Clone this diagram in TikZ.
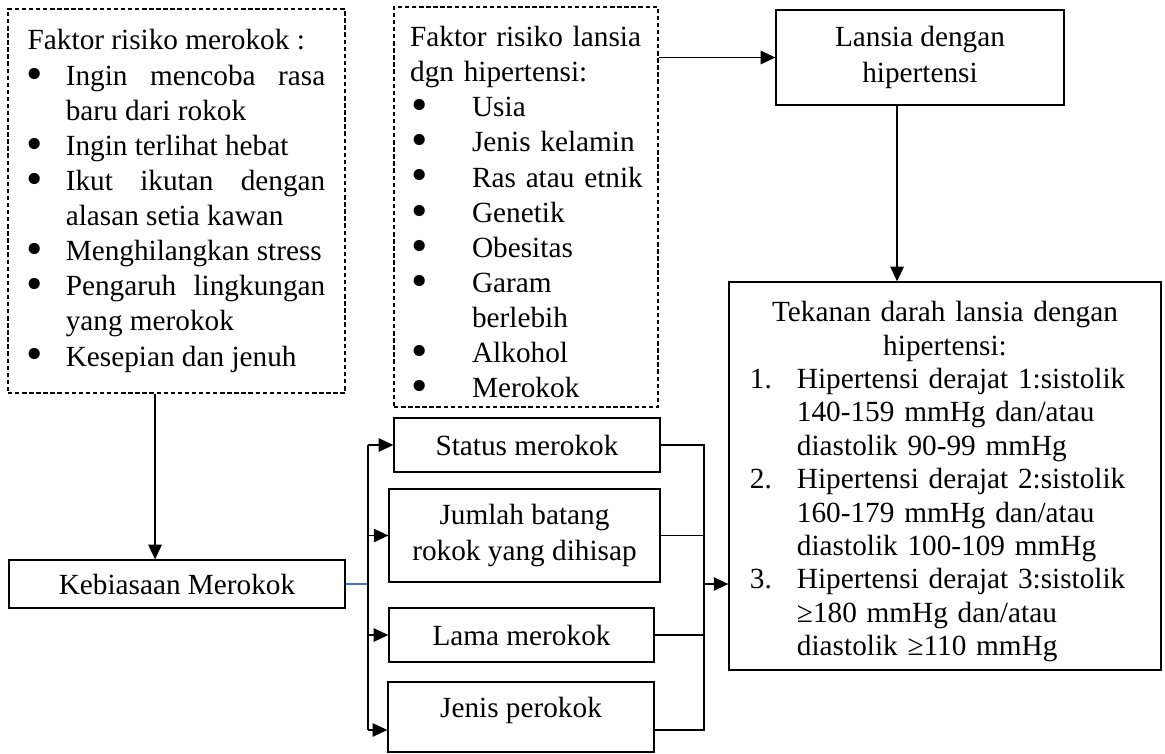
\documentclass[tikz,border=0pt]{standalone}
\usepackage{fontspec}
\setmainfont{Liberation Serif}
\usetikzlibrary{arrows.meta}
\definecolor{linkblue}{HTML}{4472C4}

% Listen in den Kaesten
\newcounter{numc}
\newcommand{\bigbul}{\makebox[4.2pt]{\raisebox{-1.6pt}{\scalebox{1.6}{\textbullet}}}}
\newenvironment{bul}[3]{\begin{list}{\bigbul}{\setlength{\leftmargin}{#1}\setlength{\labelsep}{#2}%
  \setlength{\rightmargin}{#3}\setlength{\labelwidth}{\dimexpr#1-#2\relax}\setlength{\itemsep}{0pt}%
  \setlength{\topsep}{0pt}\setlength{\parsep}{0pt}\setlength{\partopsep}{0pt}}}{\end{list}}
\newenvironment{numlist}{\begin{list}{\arabic{numc}.}{\usecounter{numc}\setlength{\leftmargin}{19.3pt}%
  \setlength{\labelsep}{0pt}\setlength{\labelwidth}{19.3pt}\renewcommand{\makelabel}[1]{##1\hfil}%
  \setlength{\itemsep}{0pt}\setlength{\topsep}{0pt}\setlength{\parsep}{0pt}\setlength{\partopsep}{0pt}}}{\end{list}}

\begin{document}
\begin{tikzpicture}[x=0.41pt, y=-0.41pt,
    box/.style={draw, line width=0.5pt, inner sep=2pt, font=\fontsize{12}{14.4}\selectfont},
    dashbox/.style={box, dash pattern=on 1.8pt off 1.1pt},
    arr/.style={-{Triangle[length=6pt,width=5.5pt]}, line width=0.5pt},
    link/.style={line width=0.5pt}]
            \useasboundingbox (0,0) rectangle (1165,753);

            % Faktor risiko (gestrichelt)
            \node[dashbox, minimum width=138.2pt, minimum height=157.4pt, text width=122pt, align=justify] (riskSmoke) at (176.5,201) {Faktor risiko merokok :
            \begin{bul}{15.6pt}{10.6pt}{0pt}
            \item Ingin mencoba rasa\linebreak baru dari rokok
            \item Ingin terlihat hebat
            \item Ikut ikutan dengan\linebreak alasan setia kawan
            \item Menghilangkan stress
            \item Pengaruh lingkungan\linebreak yang merokok
            \item Kesepian dan jenuh
            \end{bul}};
            \node[dashbox, minimum width=108.2pt, minimum height=164pt, text width=95pt, inner ysep=1pt, text height=14pt, align=left] (riskElder) at (526,207) {\hyphenpenalty=10000 Faktor risiko lansia\\dgn hipertensi:
            \begin{bul}{25.4pt}{19.2pt}{-8pt}
            \item Usia
            \item Jenis kelamin
            \item Ras atau etnik
            \item Genetik
            \item Obesitas
            \item Garam\\berlebih
            \item Alkohol
            \item Merokok
            \end{bul}};

            % Lansia und Tekanan darah
            \node[box, minimum width=118.1pt, minimum height=39pt, align=center] (lansia) at (920,57.5) {Lansia dengan\\hipertensi};
            \node[box, minimum width=177.1pt, minimum height=159.1pt, text width=160pt, text height=13pt, align=left, font=\fontsize{12}{13.7}\selectfont] (tekanan) at (945,476) {{\centering Tekanan darah lansia dengan\\hipertensi:\par}
            \begin{numlist}
            \item Hipertensi derajat 1:sistolik\\140-159 mmHg dan/atau\\diastolik 90-99 mmHg
            \item Hipertensi derajat 2:sistolik\\160-179 mmHg dan/atau\\diastolik 100-109 mmHg
            \item Hipertensi derajat 3:sistolik\\≥180 mmHg dan/atau\\diastolik ≥110 mmHg
            \end{numlist}};

            % Kebiasaan und Unterpunkte
            \node[box, minimum width=137.8pt, minimum height=19.7pt] (habit) at (177,584) {Kebiasaan Merokok};
            \node[box, minimum width=109.1pt, minimum height=22.1pt] (status) at (527,445) {Status merokok};
            \node[box, minimum width=111.1pt, minimum height=38.1pt, align=center] (jumlah) at (524.5,535.5) {Jumlah batang\\rokok yang dihisap};
            \node[box, minimum width=108.7pt, minimum height=22.1pt] (lama) at (521.5,635) {Lama merokok};
            \node[box, minimum width=109.1pt, minimum height=28.7pt, text depth=8pt] (jenis) at (521,717) {Jenis perokok};

            % Sammelschienen
            \coordinate (busL) at (368,445);
            \coordinate (busLend) at (368,730);
            \coordinate (busR) at (704,445);
            \coordinate (busRend) at (704,730);
            \coordinate (smokeOut) at ([xshift=-8.8pt]riskSmoke.south);
            \coordinate (lansiaOut) at ([xshift=-9.4pt]lansia.south);

            % Pfeile
            \draw[arr] (smokeOut) -- (smokeOut |- habit.north);
            \draw[arr] (lansia.west -| riskElder.east) -- (lansia.west);
            \draw[arr] (lansiaOut) -- (lansiaOut |- tekanan.north);
            \draw[link, linkblue] (habit.east) -- (habit.east -| busL);
            \draw[link] (busL) -- (busLend);
            \draw[arr] (busL) -- (status.west);
            \draw[arr] (busL |- jumlah.west) -- (jumlah.west);
            \draw[arr] (busL |- lama.west) -- (lama.west);
            \draw[arr] (busLend) -- (busLend -| jenis.west);
            \draw[link] (status.east) -- (busR) -- (busRend) -- (busRend -| jenis.east);
            \draw[link] (jumlah.east) -- (jumlah.east -| busR);
            \draw[link] (lama.east) -- (lama.east -| busR);
            \draw[arr] (habit.east -| busR) -- (habit.east -| tekanan.west);
        \end{tikzpicture}
\end{document}
